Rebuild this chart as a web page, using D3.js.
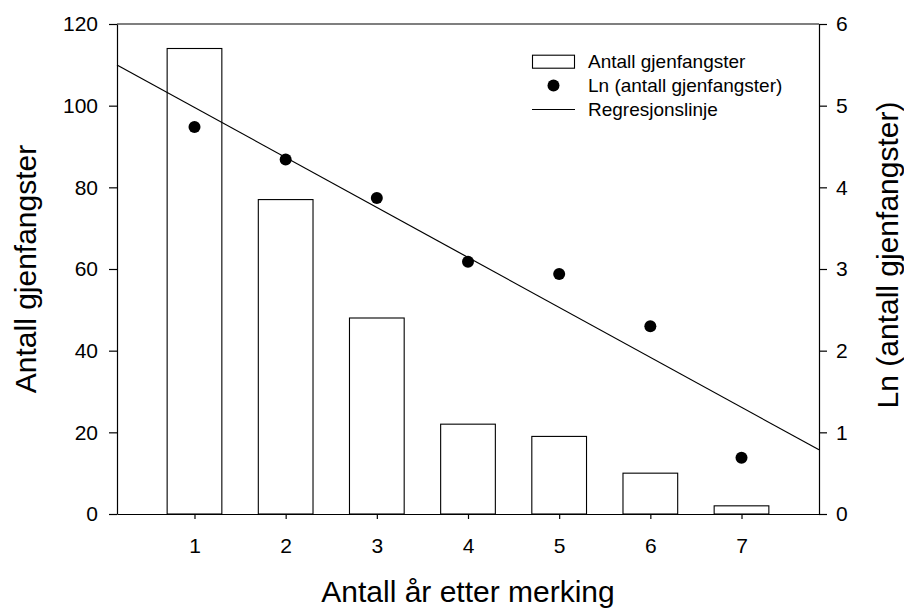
<!DOCTYPE html>
<html><head><meta charset="utf-8">
<script src="https://cdn.jsdelivr.net/npm/d3@7"></script>
<style>body{margin:0;background:#fff}svg{display:block}text{font-family:"Liberation Sans",Arial,sans-serif;fill:#000}</style>
</head><body>
<svg id="c" width="904" height="610"></svg>
<script>
const years = [1, 2, 3, 4, 5, 6, 7];
const recaptures = [114, 77, 48, 22, 19, 10, 2];
const lnRecaptures = [4.74, 4.34, 3.87, 3.09, 2.94, 2.30, 0.69];
const regIntercept = 5.59;
const regSlope = -0.612;
const leftTicks = [0, 20, 40, 60, 80, 100, 120];
const rightTicks = [0, 1, 2, 3, 4, 5, 6];
const legendLabels = ["Antall gjenfangster", "Ln (antall gjenfangster)", "Regresjonslinje"];

const svg = d3.select("#c");
const L = 117, R = 819, T = 24, B = 514;
const x = d3.scaleLinear().domain([0.15, 7.85]).range([L, R]);
const yL = d3.scaleLinear().domain([0, 120]).range([B, T]);
const yR = d3.scaleLinear().domain([0, 6]).range([B, T]);
const barW = 0.6;

// bars
svg.append("g").selectAll("rect").data(years).join("rect")
  .attr("x", d => x(d - barW/2)).attr("width", d => x(d + barW/2) - x(d - barW/2))
  .attr("y", (d,i) => yL(recaptures[i])).attr("height", (d,i) => B - yL(recaptures[i]))
  .attr("fill", "#fff").attr("stroke", "#000").attr("stroke-width", 1.1);

// regression line
const xd = x.domain();
svg.append("path")
  .datum(xd.map(v => [v, regIntercept + regSlope * v]))
  .attr("d", d3.line().x(d => x(d[0])).y(d => yR(d[1])))
  .attr("fill", "none").attr("stroke", "#000").attr("stroke-width", 1.2);

// points
svg.append("g").selectAll("circle").data(years).join("circle")
  .attr("cx", d => x(d)).attr("cy", (d,i) => yR(lnRecaptures[i])).attr("r", 6).attr("fill", "#000");

// frame top
svg.append("line").attr("x1", L).attr("x2", R).attr("y1", T).attr("y2", T).attr("stroke", "#000").attr("stroke-width", 1.2);

const styleAxis = g => {
  g.attr("font-size", null).attr("font-family", null);
  g.selectAll("path.domain").attr("stroke", "#000").attr("stroke-width", 1.2);
  g.selectAll(".tick line").attr("stroke", "#000").attr("stroke-width", 1.2);
  g.selectAll(".tick text").style("font-size", "21px");
};
svg.append("g").attr("transform", `translate(${L},0)`)
  .call(d3.axisLeft(yL).tickValues(leftTicks).tickFormat(d3.format("d")).tickSize(8).tickPadding(11).tickSizeOuter(0)).call(styleAxis);
svg.append("g").attr("transform", `translate(${R},0)`)
  .call(d3.axisRight(yR).tickValues(rightTicks).tickFormat(d3.format("d")).tickSize(8).tickPadding(9).tickSizeOuter(0)).call(styleAxis);
svg.append("g").attr("transform", `translate(0,${B})`)
  .call(d3.axisBottom(x).tickValues(years).tickFormat(d3.format("d")).tickSize(5).tickPadding(19).tickSizeOuter(0)).call(styleAxis);

// titles
svg.append("text").attr("x", (L+R)/2).attr("y", 602).attr("text-anchor", "middle").style("font-size", "30px").text("Antall år etter merking");
svg.append("text").attr("transform", `translate(36,269) rotate(-90)`).attr("text-anchor", "middle").style("font-size", "30px").text("Antall gjenfangster");
svg.append("text").attr("transform", `translate(898,255) rotate(-90)`).attr("text-anchor", "middle").style("font-size", "30px").text("Ln (antall gjenfangster)");

// legend
const lg = svg.append("g");
const rowY = [61.7, 85.5, 109.5];
lg.append("rect").attr("x", 532.5).attr("y", rowY[0]-6.5).attr("width", 42).attr("height", 13).attr("fill", "#fff").attr("stroke", "#000").attr("stroke-width", 1.1);
lg.append("circle").attr("cx", 553.5).attr("cy", rowY[1]).attr("r", 6).attr("fill", "#000");
lg.append("line").attr("x1", 532).attr("x2", 575).attr("y1", rowY[2]).attr("y2", rowY[2]).attr("stroke", "#000").attr("stroke-width", 1.2);
lg.selectAll("text").data(legendLabels).join("text")
  .attr("x", 588).attr("y", (d,i) => rowY[i]).attr("dy", "0.35em").style("font-size", "19px").text(d => d);
</script>
</body></html>
